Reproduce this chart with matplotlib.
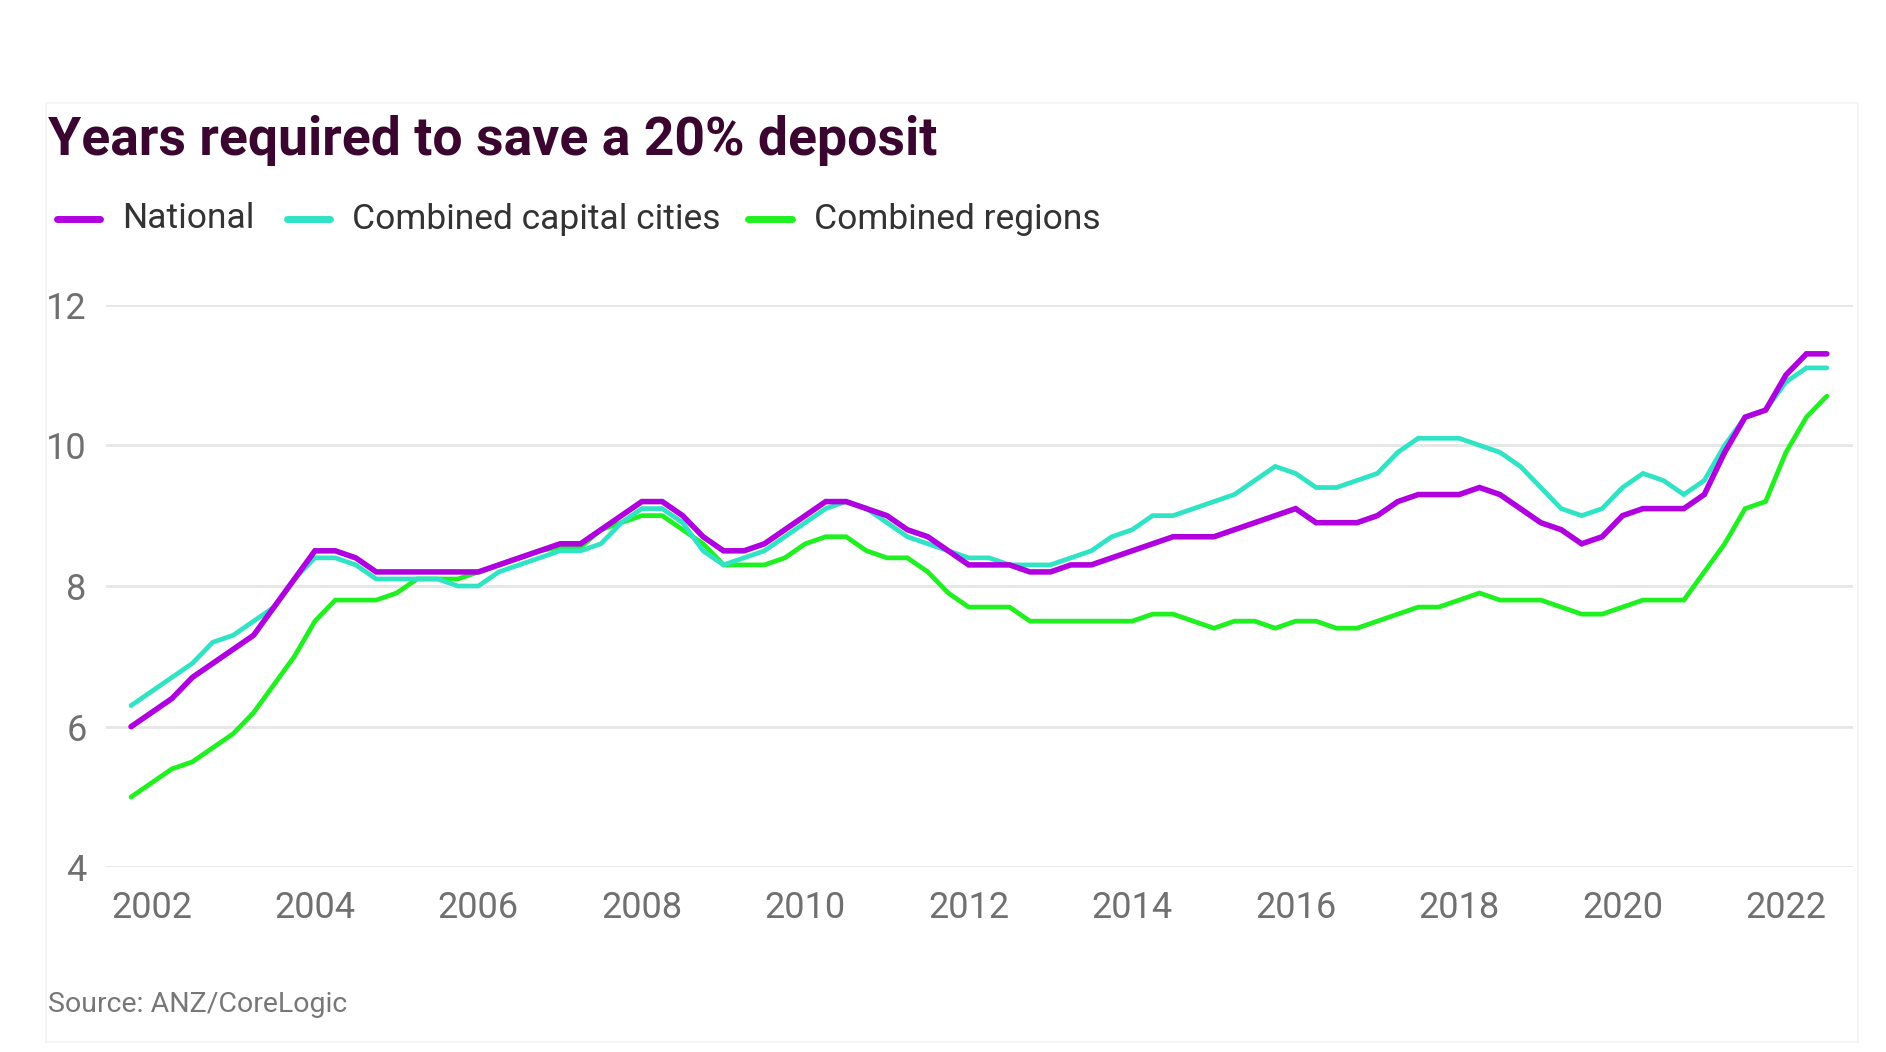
import matplotlib
matplotlib.use("Agg")
import numpy as np
import matplotlib.pyplot as plt
from matplotlib.lines import Line2D
from matplotlib.patches import Rectangle

plt.rcParams['font.family'] = ['Roboto', 'DejaVu Sans']

# quarterly observations, 2001 Q4 .. 2022 Q3
quarters = np.arange(2001.75, 2022.51, 0.25)

national = [
    6.0, 6.2, 6.4, 6.7, 6.9, 7.1, 7.3, 7.7, 8.1, 8.5, 8.5, 8.4, 8.2, 8.2, 8.2,
    8.2, 8.2, 8.2, 8.3, 8.4, 8.5, 8.6, 8.6, 8.8, 9.0, 9.2, 9.2, 9.0, 8.7,
    8.5, 8.5, 8.6, 8.8, 9.0, 9.2, 9.2, 9.1, 9.0, 8.8, 8.7, 8.5, 8.3,
    8.3, 8.3, 8.2, 8.2, 8.3, 8.3, 8.4, 8.5, 8.6, 8.7, 8.7, 8.7, 8.8, 8.9,
    9.0, 9.1, 8.9, 8.9, 8.9, 9.0, 9.2, 9.3, 9.3, 9.3, 9.4, 9.3, 9.1, 8.9,
    8.8, 8.6, 8.7, 9.0, 9.1, 9.1, 9.1, 9.3, 9.9, 10.4, 10.5, 11.0, 11.3, 11.3,
]
capitals = [
    6.3, 6.5, 6.7, 6.9, 7.2, 7.3, 7.5, 7.7, 8.1, 8.4, 8.4, 8.3, 8.1, 8.1, 8.1,
    8.1, 8.0, 8.0, 8.2, 8.3, 8.4, 8.5, 8.5, 8.6, 8.9, 9.1, 9.1, 8.9, 8.5,
    8.3, 8.4, 8.5, 8.7, 8.9, 9.1, 9.2, 9.1, 8.9, 8.7, 8.6, 8.5, 8.4,
    8.4, 8.3, 8.3, 8.3, 8.4, 8.5, 8.7, 8.8, 9.0, 9.0, 9.1, 9.2, 9.3, 9.5,
    9.7, 9.6, 9.4, 9.4, 9.5, 9.6, 9.9, 10.1, 10.1, 10.1, 10.0, 9.9, 9.7, 9.4,
    9.1, 9.0, 9.1, 9.4, 9.6, 9.5, 9.3, 9.5, 10.0, 10.4, 10.5, 10.9, 11.1, 11.1,
]
regions = [
    5.0, 5.2, 5.4, 5.5, 5.7, 5.9, 6.2, 6.6, 7.0, 7.5, 7.8, 7.8, 7.8, 7.9, 8.1,
    8.1, 8.1, 8.2, 8.3, 8.4, 8.5, 8.55, 8.55, 8.8, 8.9, 9.0, 9.0, 8.8, 8.6,
    8.3, 8.3, 8.3, 8.4, 8.6, 8.7, 8.7, 8.5, 8.4, 8.4, 8.2, 7.9, 7.7,
    7.7, 7.7, 7.5, 7.5, 7.5, 7.5, 7.5, 7.5, 7.6, 7.6, 7.5, 7.4, 7.5, 7.5,
    7.4, 7.5, 7.5, 7.4, 7.4, 7.5, 7.6, 7.7, 7.7, 7.8, 7.9, 7.8, 7.8, 7.8,
    7.7, 7.6, 7.6, 7.7, 7.8, 7.8, 7.8, 8.2, 8.6, 9.1, 9.2, 9.9, 10.4, 10.7,
]

series = [
    ("National", national, "#b000e0", 4.0),
    ("Combined capital cities", capitals, "#2fe3c4", 3.4),
    ("Combined regions", regions, "#1ff01f", 3.4),
]
yticks = [4, 6, 8, 10, 12]
xticks = list(range(2002, 2023, 2))

W, H = 1886, 1052
fig = plt.figure(figsize=(W / 100, H / 100), dpi=100)
fig.patch.set_facecolor("white")

# faint card outline
fig.patches.append(Rectangle((46 / W, 1 - 1042 / H), (1858 - 46) / W, (1042 - 103) / H,
                             transform=fig.transFigure, facecolor="none",
                             edgecolor="#f4f4f4", lw=1.2, zorder=0))

ax = fig.add_axes([106 / W, 1 - 867.4 / H, (1853 - 106) / W, (867.4 - 304.6) / H])
ax.set_xlim(2001.444, 2022.82)
ax.set_ylim(4, 12)

# draw regions first, then capitals, national on top
for name, vals, col, lw in reversed(series):
    ax.plot(quarters, vals, color=col, lw=lw, solid_joinstyle="miter",
            solid_capstyle="round", clip_on=False, zorder=3)

ax.set_yticks(yticks)
ax.set_xticks(xticks)
ax.set_xticklabels([str(x) for x in xticks])
ax.grid(axis="y", color="#e6e6e6", lw=2)
ax.grid(axis="x", visible=False)
ax.set_axisbelow(True)
for s in ax.spines.values():
    s.set_visible(False)
ax.tick_params(axis="both", length=0, labelsize=26, labelcolor="#707070")
ax.tick_params(axis="y", pad=14)
ax.tick_params(axis="x", pad=16)

# title
fig.text(48 / W, 1 - 155 / H, "Years required to save a 20% deposit",
         fontsize=38.5, weight="bold", color="#3a0630", ha="left", va="baseline")

# legend drawn by hand to follow the reference spacing
leg_y = 1 - 219 / H
legend_pos = [(57, 100, 122), (287, 330, 352), (748, 792, 814)]
for (name, vals, col, lw), (x0, x1, xt) in zip(series, legend_pos):
    fig.lines.append(Line2D([x0 / W, x1 / W], [leg_y, leg_y], transform=fig.transFigure,
                            color=col, lw=5, solid_capstyle="round"))
    fig.text(xt / W, leg_y, name, fontsize=25.5, color="#333333", ha="left", va="center")

fig.text(48 / W, 1 - 1005 / H, "Source: ANZ/CoreLogic", fontsize=20.5,
         color="#777777", ha="left", va="center")

fig.savefig("out.png", dpi=100, facecolor="white")
